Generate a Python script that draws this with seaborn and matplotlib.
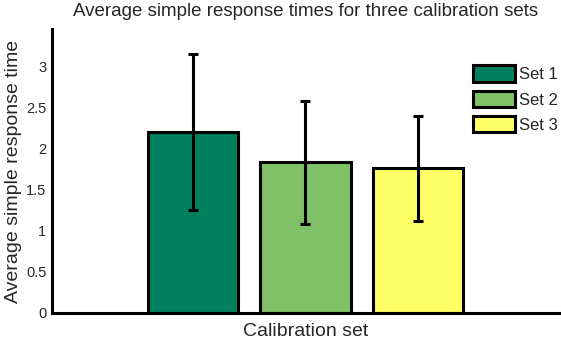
import pandas as pd
import seaborn as sns
import matplotlib.pyplot as plt

# valeurs
sets = ['Set 1', 'Set 2', 'Set 3']
mean_rt = [2.21, 1.835, 1.765]
err_rt = [0.95, 0.75, 0.64]
colors = ['#00805f', '#80c066', '#ffff66']

df = pd.DataFrame({'calib': [''] * 3, 'set': sets, 'rt': mean_rt})

sns.set_style('white')
plt.rcParams['font.family'] = ['Liberation Sans', 'DejaVu Sans']

fig = plt.figure(figsize=(5.61, 3.39), dpi=100)
ax = fig.add_axes([0.0927, 0.0767, 0.9037, 0.8378])

sns.barplot(data=df, x='calib', y='rt', hue='set', palette=colors,
            saturation=1, errorbar=None, width=0.8, gap=0.2,
            edgecolor='black', linewidth=2.2, ax=ax)

# barres d'erreur placées sur les barres dessinées par seaborn
for bar, m, e in zip(ax.patches[:3], mean_rt, err_rt):
    cx = bar.get_x() + bar.get_width() / 2
    ax.errorbar(cx, m, yerr=e, color='black', lw=2.2, capsize=3.8,
                capthick=2.2)

ax.set_xlim(-0.6, 0.6)
ax.set_ylim(0, 3.46)
ax.set_yticks([0, 0.5, 1, 1.5, 2, 2.5, 3])
ax.set_yticklabels(['0', '0.5', '1', '1.5', '2', '2.5', '3'])
ax.set_xticks([])
ax.tick_params(axis='y', labelsize=10.5, length=0, pad=4)
ax.set_xlabel('Calibration set', fontsize=14, labelpad=7)
ax.set_ylabel('Average simple response time', fontsize=14, labelpad=3)
ax.set_title('Average simple response times for three calibration sets',
             fontsize=13.5, pad=9)
sns.despine(ax=ax)
for s in ['left', 'bottom']:
    ax.spines[s].set_linewidth(2.2)
    ax.spines[s].set_color('black')

ax.legend(loc='upper left', bbox_to_anchor=(0.843, 0.807),
          bbox_transform=fig.transFigure, frameon=False, fontsize=12,
          handlelength=2.5, handleheight=1.15, labelspacing=0.5,
          handletextpad=0.25, borderaxespad=0, borderpad=0)

plt.savefig('out.png', dpi=100)
